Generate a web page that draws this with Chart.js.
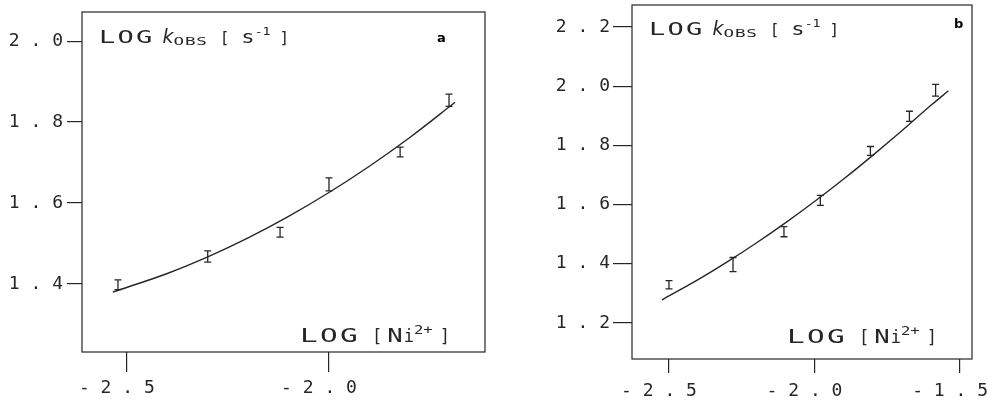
<!DOCTYPE html>
<html>
<head>
<meta charset="utf-8">
<script src="https://cdn.jsdelivr.net/npm/chart.js@4.4.1/dist/chart.umd.min.js"></script>
<style>
    html, body { margin: 0; padding: 0; background: #fff; }
    .panel { position: absolute; top: 0; width: 494px; height: 401px; }
</style>
</head>
<body>
<div class="panel" style="left:0"><canvas id="chartA" width="494" height="401"></canvas></div>
<div class="panel" style="left:494px"><canvas id="chartB" width="494" height="401"></canvas></div>
<script>
// ---- Panel a data ----
const xTicksA = [-2.5, -2.0];
const yTicksA = [1.4, 1.6, 1.8, 2.0];
const pointsXA = [-2.522, -2.30, -2.121, -2.0, -1.824, -1.703];
const pointsYA = [1.398, 1.468, 1.528, 1.646, 1.726, 1.854];
const errorsA = [0.012, 0.014, 0.012, 0.016, 0.012, 0.015];
const curveXA = [-2.535, -2.4, -2.3, -2.2, -2.1, -2.0, -1.9, -1.8, -1.688];
const curveYA = [1.380, 1.426, 1.467, 1.514, 1.567, 1.626, 1.691, 1.762, 1.849];

// ---- Panel b data ----
const xTicksB = [-2.5, -2.0, -1.5];
const yTicksB = [1.2, 1.4, 1.6, 1.8, 2.0, 2.2];
const pointsXB = [-2.5, -2.28, -2.105, -1.98, -1.808, -1.674, -1.584];
const pointsYB = [1.329, 1.397, 1.508, 1.614, 1.781, 1.898, 1.986];
const errorsB = [0.014, 0.024, 0.017, 0.017, 0.015, 0.017, 0.02];
const curveXB = [-2.524, -2.4, -2.3, -2.2, -2.1, -2.0, -1.9, -1.8, -1.7, -1.6, -1.54];
const curveYB = [1.278, 1.346, 1.406, 1.470, 1.538, 1.610, 1.686, 1.766, 1.849, 1.935, 1.984];

const INK = '#262626';
const MONO = '"DejaVu Sans Mono", monospace';

// "2.0" -> "2 . 0", "-2.5" -> "- 2 . 5"
function plotterNumber(v) {
    const s = Math.abs(v).toFixed(1).split('').join(' ');
    return v < 0 ? '- ' + s : s;
}

function toPoints(xs, ys) {
    return xs.map((x, i) => ({ x: x, y: ys[i] }));
}

// Frame around the plot area
const framePlugin = {
    id: 'frame',
    afterDraw(chart) {
        const a = chart.chartArea;
        const ctx = chart.ctx;
        ctx.save();
        ctx.strokeStyle = INK;
        ctx.lineWidth = 1.2;
        ctx.strokeRect(a.left, a.top, a.right - a.left, a.bottom - a.top);
        ctx.restore();
    }
};

// Vertical error bars with small caps
const errorBarPlugin = {
    id: 'errorBars',
    afterDatasetsDraw(chart) {
        const ctx = chart.ctx;
        const xs = chart.scales.x, ys = chart.scales.y;
        chart.data.datasets.forEach(ds => {
            if (!ds.errors) return;
            ctx.save();
            ctx.strokeStyle = INK;
            ctx.lineWidth = 1.3;
            ds.data.forEach((p, i) => {
                const px = xs.getPixelForValue(p.x);
                const y1 = ys.getPixelForValue(p.y - ds.errors[i]);
                const y2 = ys.getPixelForValue(p.y + ds.errors[i]);
                ctx.beginPath();
                ctx.moveTo(px, y1); ctx.lineTo(px, y2);
                ctx.moveTo(px - 3.5, y1); ctx.lineTo(px + 3.5, y1);
                ctx.moveTo(px - 3.5, y2); ctx.lineTo(px + 3.5, y2);
                ctx.stroke();
            });
            ctx.restore();
        });
    }
};

// Text runs: main text, subscripts, superscripts
function segFont(s) {
    return (s.italic ? 'italic ' : '') + (s.bold ? 'bold ' : '') + s.size + 'px ' + (s.family || MONO);
}

function runWidth(ctx, segs) {
    let w = 0;
    segs.forEach(s => {
        ctx.font = segFont(s);
        ctx.letterSpacing = (s.ls || 0) + 'px';
        w += (s.gap || 0) + ctx.measureText(s.t).width * (s.sx || 1);
    });
    ctx.letterSpacing = '0px';
    return w;
}

function drawRun(ctx, segs, x, baseline) {
    ctx.save();
    ctx.fillStyle = INK;
    ctx.textBaseline = 'alphabetic';
    ctx.textAlign = 'left';
    segs.forEach(s => {
        x += s.gap || 0;
        ctx.font = segFont(s);
        ctx.letterSpacing = (s.ls || 0) + 'px';
        const w = ctx.measureText(s.t).width * (s.sx || 1);
        ctx.save();
        ctx.translate(x, baseline + (s.dy || 0));
        ctx.scale(s.sx || 1, 1);
        ctx.fillText(s.t, 0, 0);
        ctx.restore();
        x += w;
    });
    ctx.restore();
}

const yTitleSegs = [
    { t: 'LOG', size: 18, sx: 1.5, ls: 1.5 },
    { t: 'k', size: 19, italic: true, family: '"DejaVu Sans", sans-serif', gap: 8 },
    { t: 'OBS', size: 11, sx: 1.6, ls: 0.5, dy: 2 },
    { t: '[', size: 16, gap: 12 },
    { t: 's', size: 17, sx: 1.3, gap: 12 },
    { t: '-1', size: 11, sx: 1.2, dy: -8 },
    { t: ']', size: 16, gap: 9 }
];
const xTitleSegs = [
    { t: 'LOG', size: 19, sx: 1.55, ls: 1.5 },
    { t: '[', size: 17, gap: 12 },
    { t: 'N', size: 19, sx: 1.35, gap: 5 },
    { t: 'i', size: 17, gap: 1 },
    { t: '2+', size: 12, sx: 1.3, dy: -8 },
    { t: ']', size: 17, gap: 7 }
];

const labelsPlugin = {
    id: 'panelText',
    afterDraw(chart, args, opts) {
        const a = chart.chartArea;
        const ctx = chart.ctx;
        drawRun(ctx, yTitleSegs, a.left + 17, a.top + opts.yTitleDrop);
        const w = runWidth(ctx, xTitleSegs);
        drawRun(ctx, xTitleSegs, a.right - 35 - w, a.bottom - opts.xTitleRise);
        ctx.save();
        ctx.fillStyle = '#000';
        ctx.font = 'bold 13px "DejaVu Sans", sans-serif';
        ctx.fillText(opts.tag, a.left + opts.tagX, a.top + opts.tagDrop);
        ctx.restore();
    }
};

function makeChart(id, cfg) {
    const fontTicks = { family: MONO, size: 18 };
    return new Chart(document.getElementById(id), {
        type: 'scatter',
        data: {
            datasets: [{
                data: toPoints(cfg.curveX, cfg.curveY),
                showLine: true,
                borderColor: INK,
                borderWidth: 1.4,
                pointRadius: 0,
                cubicInterpolationMode: 'monotone'
            }, {
                data: toPoints(cfg.pointsX, cfg.pointsY),
                errors: cfg.errors,
                pointRadius: 0,
                showLine: false
            }]
        },
        options: {
            responsive: false,
            animation: false,
            events: [],
            layout: { padding: cfg.padding },
            plugins: {
                legend: { display: false },
                tooltip: { enabled: false },
                panelText: cfg.text
            },
            scales: {
                x: {
                    type: 'linear',
                    min: cfg.xMin, max: cfg.xMax,
                    afterBuildTicks: s => { s.ticks = cfg.xTicks.map(v => ({ value: v })); },
                    afterFit: s => { s.height = cfg.xAxisHeight; s.paddingLeft = 0; s.paddingRight = 0; },
                    border: { display: false },
                    grid: { drawOnChartArea: false, drawTicks: true, tickLength: cfg.xTickLen, color: INK, lineWidth: 1.2 },
                    ticks: {
                        font: fontTicks, color: INK, padding: cfg.xTickPad,
                        labelOffset: -10, maxRotation: 0, autoSkip: false,
                        callback: v => plotterNumber(v)
                    }
                },
                y: {
                    type: 'linear',
                    min: cfg.yMin, max: cfg.yMax,
                    afterBuildTicks: s => { s.ticks = cfg.yTicks.map(v => ({ value: v })); },
                    afterFit: s => { s.width = cfg.yAxisWidth; s.paddingTop = 0; s.paddingBottom = 0; },
                    border: { display: false },
                    grid: { drawOnChartArea: false, drawTicks: true, tickLength: cfg.yTickLen, color: INK, lineWidth: 1.2 },
                    ticks: {
                        font: fontTicks, color: INK, padding: cfg.yTickPad, autoSkip: false,
                        callback: v => plotterNumber(v)
                    }
                }
            }
        },
        plugins: [framePlugin, errorBarPlugin, labelsPlugin]
    });
}

document.addEventListener('DOMContentLoaded', function() {
    makeChart('chartA', {
        curveX: curveXA, curveY: curveYA,
        pointsX: pointsXA, pointsY: pointsYA, errors: errorsA,
        xTicks: xTicksA, yTicks: yTicksA,
        xMin: -2.611, xMax: -1.614, yMin: 1.232, yMax: 2.072,
        padding: { top: 12, right: 9, left: 0, bottom: 0 },
        xAxisHeight: 49, yAxisWidth: 82,
        xTickLen: 20, xTickPad: 6, yTickLen: 15, yTickPad: 4,
        text: { yTitleDrop: 31, xTitleRise: 10, tag: 'a', tagX: 355, tagDrop: 30 }
    });
    makeChart('chartB', {
        curveX: curveXB, curveY: curveYB,
        pointsX: pointsXB, pointsY: pointsYB, errors: errorsB,
        xTicks: xTicksB, yTicks: yTicksB,
        xMin: -2.627, xMax: -1.459, yMin: 1.078, yMax: 2.274,
        padding: { top: 5, right: 16, left: 0, bottom: 0 },
        xAxisHeight: 42, yAxisWidth: 138,
        xTickLen: 14, xTickPad: 8, yTickLen: 19, yTickPad: 3,
        text: { yTitleDrop: 30, xTitleRise: 16, tag: 'b', tagX: 322, tagDrop: 23 }
    });
});
</script>
</body>
</html>
